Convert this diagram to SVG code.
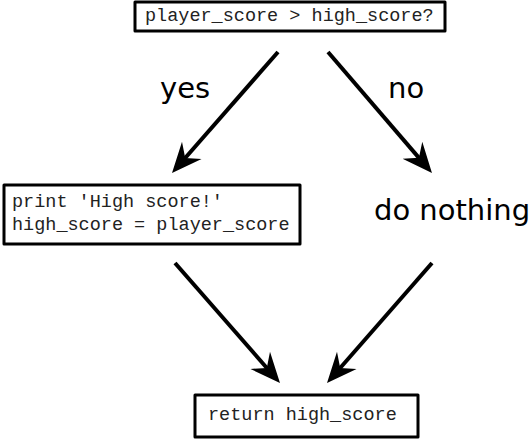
<svg xmlns="http://www.w3.org/2000/svg" width="529" height="441" viewBox="0 0 529 441">
<style>
.box{fill:#fff;stroke:#000;stroke-width:3;stroke-linejoin:round}
.code{font-family:"Liberation Mono","DejaVu Sans Mono",monospace;font-size:18.5px;fill:#222}
.lbl{font-family:"DejaVu Sans",sans-serif;font-size:29px;fill:#000}
.edge{stroke:#000;stroke-width:4;fill:none;marker-end:url(#ah)}
</style>
<defs>
<marker id="ah" markerUnits="userSpaceOnUse" viewBox="0 -14 30 28" markerWidth="30" markerHeight="28" refX="15" refY="0" orient="auto">
<path d="M30,0 L0,-13 L10,0 L0,13 Z" fill="#000"/>
</marker>
</defs>
<rect width="529" height="441" fill="#fff"/>
<g id="connectors">
<line class="edge" x1="278" y1="52" x2="181.9" y2="161.7"/>
<line class="edge" x1="328" y1="52" x2="422.2" y2="161.6"/>
<line class="edge" x1="175" y1="263" x2="270.1" y2="371.7"/>
<line class="edge" x1="432" y1="263" x2="336.9" y2="371.7"/>
<text class="lbl" x="160" y="98">yes</text>
<text class="lbl" x="388" y="98">no</text>
</g>
<g id="decision">
<rect class="box" x="135" y="2" width="310" height="29"/>
<text class="code" x="145" y="21">player_score &gt; high_score?</text>
</g>
<g id="yes_action">
<rect class="box" x="4" y="185" width="296" height="59"/>
<text class="code" x="12" y="207">print 'High score!'</text>
<text class="code" x="12" y="230">high_score = player_score</text>
</g>
<g id="no_action">
<text class="lbl" x="374" y="220">do nothing</text>
</g>
<g id="return">
<rect class="box" x="195" y="395" width="223" height="42"/>
<text class="code" x="208" y="420">return high_score</text>
</g>
</svg>
